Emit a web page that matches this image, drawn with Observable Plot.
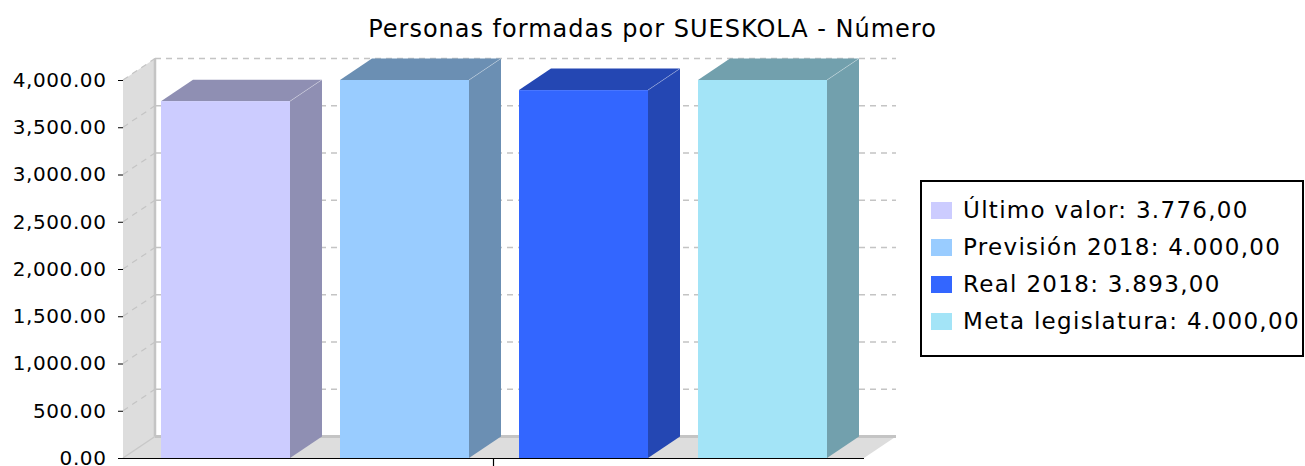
<!DOCTYPE html>
<html><head><meta charset="utf-8">
<script src="https://cdn.jsdelivr.net/npm/d3@7"></script>
<script src="https://cdn.jsdelivr.net/npm/@observablehq/plot@0.6"></script>
<style>
body{margin:0;background:#fff;font-family:"DejaVu Sans",sans-serif;}
#wrap{position:relative;width:1305px;height:466px;overflow:hidden;}
#title{position:absolute;left:0;top:15px;width:1305px;text-align:center;font-size:24px;letter-spacing:1px;color:#000;white-space:nowrap;}
#legend{position:absolute;left:920px;top:180px;width:384px;height:177px;border:2px solid #000;box-sizing:border-box;background:#fff;}
.item{position:absolute;left:9px;height:24px;display:flex;align-items:center;font-size:23px;letter-spacing:1.3px;white-space:nowrap;color:#000;}
.sw{width:21px;height:17px;margin-right:11px;flex:none;}
</style></head>
<body>
<div id="wrap"><div id="chart"></div><div id="title"></div><div id="legend"></div></div>
<script>
const title = "Personas formadas por SUESKOLA - Número";
const series = ["Último valor", "Previsión 2018", "Real 2018", "Meta legislatura"];
const values = [3776, 4000, 3893, 4000];
const colors = ["#CCCCFF", "#99CCFF", "#3366FF", "#A3E4F7"];
const yTicks = [0, 500, 1000, 1500, 2000, 2500, 3000, 3500, 4000];

const data = series.map((s, i) => ({name: s, value: values[i], color: colors[i]}));
const dx = 32, dy = -21.5;
const esFmt = d3.formatLocale({decimal: ",", thousands: ".", grouping: [3], currency: ["", ""]}).format(",.2f");

function pts(a) { return a.map(p => p.join(",")).join(" "); }

function walls(index, scales, values, dim) {
  const x0 = dim.marginLeft, x1 = dim.width - dim.marginRight;
  const y = scales.y, y0 = y(0), yT = y(yTicks[yTicks.length - 1]);
  const g = d3.create("svg:g");
  g.append("polygon").attr("points", pts([[x0, y0], [x0 + dx, y0 + dy], [x0 + dx, yT + dy], [x0, yT]])).attr("fill", "#DDDDDD");
  g.append("polygon").attr("points", pts([[x0, y0], [x0 + dx, y0 + dy], [x1 + dx, y0 + dy], [x1, y0]])).attr("fill", "#DDDDDD");
  for (const t of yTicks.slice(1)) {
    g.append("line").attr("x1", x0 + dx).attr("x2", x1 + dx).attr("y1", y(t) + dy).attr("y2", y(t) + dy)
      .attr("stroke", "#C4C4C4").attr("stroke-width", 1.3).attr("stroke-dasharray", "6,5");
    g.append("line").attr("x1", x0).attr("x2", x0 + dx).attr("y1", y(t)).attr("y2", y(t) + dy)
      .attr("stroke", "#C4C4C4").attr("stroke-width", 1.2).attr("stroke-dasharray", "6,5");
  }
  g.append("line").attr("x1", x0 + dx).attr("x2", x0 + dx).attr("y1", yT + dy).attr("y2", y0 + dy)
    .attr("stroke", "#C4C4C4").attr("stroke-width", 2.5);
  g.append("line").attr("x1", x0 + dx).attr("x2", x1 + dx).attr("y1", y0 + dy).attr("y2", y0 + dy)
    .attr("stroke", "#C4C4C4").attr("stroke-width", 3);
  g.append("line").attr("x1", x0).attr("x2", x0 + dx).attr("y1", y0).attr("y2", y0 + dy)
    .attr("stroke", "#C8C8C8").attr("stroke-width", 1.5);
  return g.node();
}

function sides(index, scales, values, dim) {
  const x = scales.x, y = scales.y, bw = x.bandwidth();
  const g = d3.create("svg:g");
  for (const d of data) {
    const xl = x(d.name), xr = xl + bw, yt = y(d.value), yb = y(0);
    const side = d3.rgb(d.color).darker(1).formatHex();
    g.append("polygon").attr("points", pts([[xr, yb], [xr + dx, yb + dy], [xr + dx, yt + dy], [xr, yt]])).attr("fill", side);
    g.append("polygon").attr("points", pts([[xl, yt], [xl + dx, yt + dy], [xr + dx, yt + dy], [xr, yt]])).attr("fill", side);
    g.append("line").attr("x1", xr).attr("y1", yt).attr("x2", xr + dx).attr("y2", yt + dy)
      .attr("stroke", "#fff").attr("stroke-opacity", 0.3).attr("stroke-width", 1);
  }
  return g.node();
}

function catTick(index, scales, values, dim) {
  const x0 = dim.marginLeft, x1 = dim.width - dim.marginRight, y0 = scales.y(0);
  const g = d3.create("svg:g");
  g.append("line").attr("x1", (x0 + x1) / 2).attr("x2", (x0 + x1) / 2).attr("y1", y0).attr("y2", y0 + 8)
    .attr("stroke", "#000").attr("stroke-width", 1.2);
  return g.node();
}

const plot = Plot.plot({
  width: 1305, height: 466,
  marginTop: 80, marginBottom: 8, marginLeft: 123, marginRight: 441,
  style: "font-family:'DejaVu Sans',sans-serif;font-size:20px;overflow:visible;background:transparent;color:#000;letter-spacing:0.6px",
  x: {type: "band", domain: series, paddingInner: 0.28, paddingOuter: 0.2, axis: null},
  y: {domain: [0, 4000], ticks: yTicks, tickFormat: d3.format(",.2f"), tickSize: 5, tickPadding: 12, label: null, line: true},
  color: {type: "identity"},
  marks: [
    walls,
    sides,
    Plot.barY(data, {x: "name", y: "value", fill: "color"}),
    Plot.ruleY([0], {stroke: "#000", strokeWidth: 1.2}),
    catTick
  ]
});
document.getElementById("chart").appendChild(plot);
document.getElementById("title").textContent = title;

const legend = d3.select("#legend");
data.forEach((d, i) => {
  const it = legend.append("div").attr("class", "item").style("top", (16 + i * 37) + "px");
  it.append("div").attr("class", "sw").style("background", d.color);
  it.append("span").text(d.name + ": " + esFmt(d.value));
});
</script>
</body></html>
